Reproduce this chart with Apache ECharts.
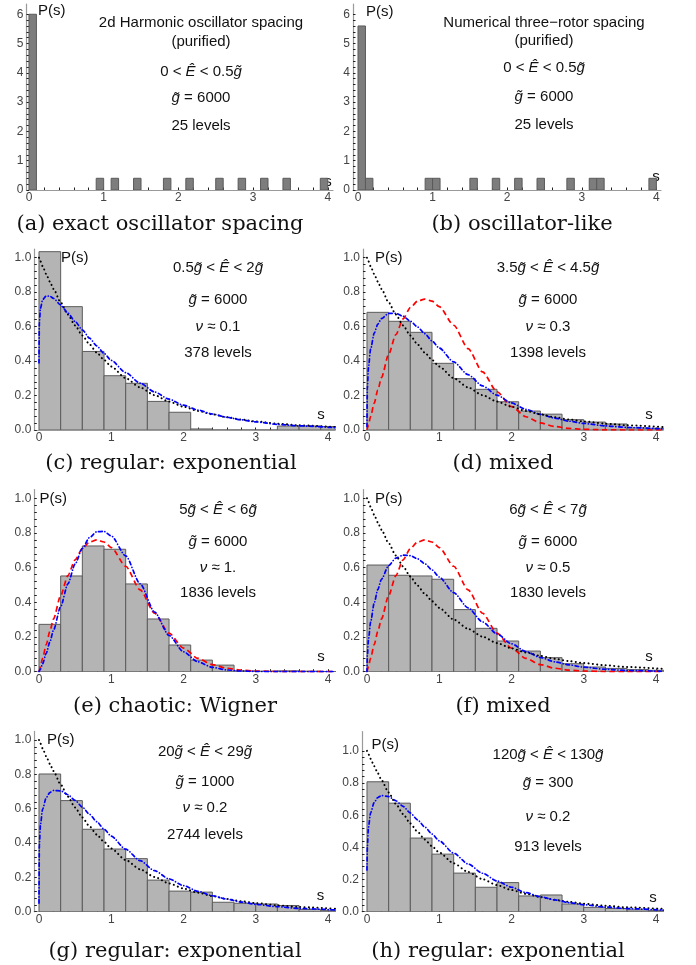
<!DOCTYPE html>
<html>
<head>
<meta charset="utf-8">
<script src="https://cdn.jsdelivr.net/npm/echarts/dist/echarts.min.js"></script>
<style>html,body{margin:0;padding:0;background:#fff}#c{width:696px;height:965px}</style>
</head>
<body>
<div id="c"></div>
<script>
// ---------- data ----------
const sGrid   = [0, 0.005, 0.02, 0.05, 0.1, 0.15, 0.2, 0.3, 0.4, 0.5, 0.6, 0.7, 0.8, 0.9, 1.0, 1.2, 1.4, 1.6, 1.8, 2.0, 2.2, 2.4, 2.6, 2.8, 3.0, 3.3, 3.6, 4.1];
const poisson = [1, 0.995, 0.980, 0.951, 0.905, 0.861, 0.819, 0.741, 0.670, 0.607, 0.549, 0.497, 0.449, 0.407, 0.368, 0.301, 0.247, 0.202, 0.165, 0.135, 0.111, 0.091, 0.074, 0.061, 0.050, 0.037, 0.027, 0.017];
const wigner  = [0, 0.008, 0.031, 0.078, 0.156, 0.232, 0.304, 0.439, 0.554, 0.645, 0.710, 0.748, 0.760, 0.748, 0.716, 0.608, 0.472, 0.337, 0.222, 0.136, 0.077, 0.041, 0.020, 0.009, 0.004, 0.001, 0, 0];
const brodyC  = [0.39, 0.620, 0.706, 0.756, 0.778, 0.777, 0.764, 0.726, 0.679, 0.630, 0.581, 0.533, 0.488, 0.445, 0.404, 0.333, 0.272, 0.221, 0.179, 0.144, 0.116, 0.093, 0.074, 0.059, 0.047, 0.033, 0.024, 0.013];
const brodyD  = [0.02, 0.239, 0.361, 0.469, 0.562, 0.615, 0.647, 0.677, 0.677, 0.660, 0.632, 0.598, 0.559, 0.517, 0.476, 0.395, 0.321, 0.256, 0.202, 0.157, 0.120, 0.091, 0.069, 0.051, 0.038, 0.024, 0.015, 0.006];
const brodyE  = [0, 0.003, 0.015, 0.046, 0.106, 0.171, 0.239, 0.376, 0.507, 0.621, 0.711, 0.774, 0.807, 0.809, 0.783, 0.668, 0.507, 0.344, 0.209, 0.115, 0.057, 0.025, 0.010, 0.004, 0.001, 0, 0, 0];
const brodyF  = [0, 0.091, 0.182, 0.285, 0.396, 0.474, 0.533, 0.612, 0.655, 0.672, 0.669, 0.651, 0.623, 0.587, 0.546, 0.456, 0.368, 0.287, 0.218, 0.161, 0.116, 0.082, 0.057, 0.039, 0.026, 0.014, 0.007, 0.002];
const brodyG  = [0.05, 0.386, 0.506, 0.597, 0.664, 0.694, 0.706, 0.704, 0.681, 0.648, 0.609, 0.567, 0.524, 0.481, 0.440, 0.364, 0.297, 0.239, 0.191, 0.152, 0.119, 0.093, 0.073, 0.056, 0.043, 0.029, 0.019, 0.010];
const brodyH  = [0.26, 0.40, 0.525, 0.615, 0.680, 0.710, 0.722, 0.716, 0.690, 0.655, 0.614, 0.571, 0.527, 0.483, 0.441, 0.364, 0.297, 0.239, 0.191, 0.152, 0.119, 0.093, 0.073, 0.056, 0.043, 0.029, 0.019, 0.010];

const binLeft  = [0, 0.3, 0.6, 0.9, 1.2, 1.5, 1.8, 2.1, 2.4, 2.7, 3.0, 3.3, 3.6, 3.9];
const binWidth = 0.3;
const histC = [1.035, 0.716, 0.456, 0.315, 0.271, 0.166, 0.103, 0.006, 0, 0, 0, 0.023, 0.023, 0.020];
const histD = [0.683, 0.631, 0.567, 0.387, 0.298, 0.236, 0.164, 0.110, 0.092, 0.060, 0.046, 0.035, 0.012, 0.010];
const histE = [0.273, 0.552, 0.725, 0.706, 0.506, 0.304, 0.154, 0.067, 0.038, 0.005, 0.003, 0.005, 0.003, 0];
const histF = [0.615, 0.556, 0.552, 0.533, 0.358, 0.250, 0.177, 0.119, 0.081, 0.046, 0.027, 0.019, 0.012, 0.008];
const histG = [0.802, 0.647, 0.480, 0.365, 0.309, 0.184, 0.120, 0.114, 0.055, 0.049, 0.045, 0.036, 0.013, 0.008];
const histH = [0.808, 0.675, 0.458, 0.358, 0.240, 0.152, 0.181, 0.098, 0.104, 0.048, 0.027, 0.020, 0.012, 0.008];

const narrowWidth = 0.1;
const aLeft   = [0, 0.9, 1.1, 1.4, 1.8, 2.1, 2.5, 2.8, 3.1, 3.4, 3.9];
const aHeight = [6, 0.4, 0.4, 0.4, 0.4, 0.4, 0.4, 0.4, 0.4, 0.4, 0.4];
const bLeft   = [0, 0.1, 0.9, 1.0, 1.5, 1.8, 2.1, 2.4, 2.8, 3.1, 3.2, 3.9];
const bHeight = [5.6, 0.4, 0.4, 0.4, 0.4, 0.4, 0.4, 0.4, 0.4, 0.4, 0.4, 0.4];

const xMajor  = [0, 1, 2, 3, 4];
const yMajor1 = [0, 0.2, 0.4, 0.6, 0.8, 1.0];
const yMajor6 = [0, 1, 2, 3, 4, 5, 6];

const textA = ['2d Harmonic oscillator spacing', '(purified)', '0 < {i|Ê} < 0.5{i|g̃}', '{i|g̃} = 6000', '25 levels'];
const textB = ['Numerical three\u2212rotor spacing', '(purified)', '0 < {i|Ê} < 0.5{i|g̃}', '{i|g̃} = 6000', '25 levels'];
const textC = ['0.5{i|g̃} < {i|Ê} < 2{i|g̃}', '{i|g̃} = 6000', '{i|ν} ≈ 0.1', '378 levels'];
const textD = ['3.5{i|g̃} < {i|Ê} < 4.5{i|g̃}', '{i|g̃} = 6000', '{i|ν} ≈ 0.3', '1398 levels'];
const textE = ['5{i|g̃} < {i|Ê} < 6{i|g̃}', '{i|g̃} = 6000', '{i|ν} ≈ 1.', '1836 levels'];
const textF = ['6{i|g̃} < {i|Ê} < 7{i|g̃}', '{i|g̃} = 6000', '{i|ν} ≈ 0.5', '1830 levels'];
const textG = ['20{i|g̃} < {i|Ê} < 29{i|g̃}', '{i|g̃} = 1000', '{i|ν} ≈ 0.2', '2744 levels'];
const textH = ['120{i|g̃} < {i|Ê} < 130{i|g̃}', '{i|g̃} = 300', '{i|ν} ≈ 0.2', '913 levels'];

const captions = ['(a) exact oscillator spacing', '(b) oscillator-like', '(c) regular: exponential', '(d) mixed',
                  '(e) chaotic: Wigner', '(f) mixed', '(g) regular: exponential', '(h) regular: exponential'];

// ---------- helpers ----------
const bars = (lefts, heights, w) => lefts.map((l, k) => [l, l + w, heights[k]]);
const curve = arr => sGrid.map((s, k) => [s, arr[k]]);
const steps = (a, b, d) => { const r = []; for (let v = a; v <= b + 1e-9; v += d) r.push(+v.toFixed(4)); return r; };

const SANS = 'Liberation Sans, Arial, sans-serif';
const SERIF = 'DejaVu Serif, serif';

const STY = {
  poisson: { color: '#000', width: 2, type: [0.1, 4.2], cap: 'round' },
  wigner:  { color: '#ff0000', width: 1.7, type: [5.5, 3.5], cap: 'butt' },
  brody:   { color: '#0000ff', width: 1.7, type: [3.5, 2.8, 0.1, 2.8], cap: 'round' }
};

const panels = [
  { g: [26.5, 4, 306.5, 186], xMin: -0.033, xMax: 4.07, yMax: 6.35, yMajor: yMajor6, yMinor: 0.2, yDec: 0,
    bars: bars(aLeft, aHeight, narrowWidth), dark: true, curves: [],
    text: textA, tx: 201, ty: [23.3, 41.7, 71.7, 98.3, 126], ps: [38, 11], sl: [328, 182], cap: [160, 225] },
  { g: [353, 4, 308, 186], xMin: -0.067, xMax: 4.062, yMax: 6.35, yMajor: yMajor6, yMinor: 0.2, yDec: 0,
    bars: bars(bLeft, bHeight, narrowWidth), dark: true, curves: [],
    text: textB, tx: 544, ty: [22.7, 40.7, 68.3, 96.7, 125], ps: [366, 12], sl: [656, 177], cap: [522, 225] },
  { g: [34.3, 249.1, 300.9, 180.9], xMin: -0.065, xMax: 4.1, yMax: 1.05, yMajor: yMajor1, yMinor: 0.04, yDec: 1,
    bars: bars(binLeft, histC, binWidth), curves: [['poisson', poisson], ['brody', brodyC]],
    text: textC, tx: 218, ty: [268.3, 300, 326.7, 353.3], ps: [61, 258], sl: [321, 415], cap: [171, 464] },
  { g: [363, 249.1, 300.2, 180.9], xMin: -0.055, xMax: 4.1, yMax: 1.05, yMajor: yMajor1, yMinor: 0.04, yDec: 1,
    bars: bars(binLeft, histD, binWidth), curves: [['wigner', wigner], ['brody', brodyD], ['poisson', poisson]],
    text: textD, tx: 548, ty: [268.3, 300, 326.7, 353.3], ps: [375, 258], sl: [649, 414.5], cap: [503, 464] },
  { g: [34.3, 489.6, 300.9, 182.1], xMin: -0.065, xMax: 4.1, yMax: 1.05, yMajor: yMajor1, yMinor: 0.04, yDec: 1,
    bars: bars(binLeft, histE, binWidth), curves: [['wigner', wigner], ['brody', brodyE]],
    text: textE, tx: 218, ty: [510, 541.7, 568.3, 593.3], ps: [39.5, 499], sl: [321, 656.7], cap: [175, 707] },
  { g: [363, 489.6, 300.2, 182.1], xMin: -0.055, xMax: 4.1, yMax: 1.05, yMajor: yMajor1, yMinor: 0.04, yDec: 1,
    bars: bars(binLeft, histF, binWidth), curves: [['wigner', wigner], ['brody', brodyF], ['poisson', poisson]],
    text: textF, tx: 548, ty: [510, 541.7, 568.3, 593.3], ps: [375, 499], sl: [649, 656.7], cap: [503, 707] },
  { g: [34.3, 731.4, 300.9, 180.3], xMin: -0.065, xMax: 4.1, yMax: 1.05, yMajor: yMajor1, yMinor: 0.04, yDec: 1,
    bars: bars(binLeft, histG, binWidth), curves: [['poisson', poisson], ['brody', brodyG]],
    text: textG, tx: 205, ty: [751.7, 781.7, 808.3, 835], ps: [47, 740], sl: [320.5, 896], cap: [175, 952] },
  { g: [362, 731.6, 301.2, 180.1], xMin: -0.069, xMax: 4.1, yMax: 1.12, yMajor: yMajor1, yMinor: 0.04, yDec: 1,
    bars: bars(binLeft, histH, binWidth), curves: [['poisson', poisson], ['brody', brodyH]],
    text: textH, tx: 548, ty: [755, 783.3, 816.7, 846.7], ps: [371.5, 744.7], sl: [653, 897.5], cap: [498, 952] }
];

// ---------- build option ----------
const grid = [], xAxis = [], yAxis = [], series = [], graphic = [];
const richI = { i: { fontStyle: 'italic', fontSize: 15, fontFamily: SANS, fill: '#111' } };

panels.forEach((p, i) => {
  grid.push({ left: p.g[0], top: p.g[1], width: p.g[2], height: p.g[3] });
  xAxis.push({
    type: 'value', gridIndex: i, min: p.xMin, max: p.xMax,
    splitLine: { show: false },
    axisLine: { show: true, onZero: false, lineStyle: { color: '#9a9a9a', width: 1.2 } },
    axisTick: { show: true, inside: true, length: 2.5, customValues: steps(0, 4, 0.2), lineStyle: { color: '#222', width: 1 } },
    axisLabel: { customValues: xMajor, margin: 2, fontSize: 12, color: '#444', fontFamily: SANS }
  });
  yAxis.push({
    type: 'value', gridIndex: i, min: 0, max: p.yMax,
    splitLine: { show: false },
    axisLine: { show: true, onZero: false, lineStyle: { color: '#9a9a9a', width: 1.2 } },
    axisTick: { show: true, inside: true, length: 2.5, customValues: steps(0, p.yMajor[p.yMajor.length - 1], p.yMinor), lineStyle: { color: '#222', width: 1 } },
    axisLabel: { customValues: p.yMajor, margin: 3, fontSize: 12, color: '#444', fontFamily: SANS,
                 formatter: v => Number(v).toFixed(p.yDec) }
  });
  const fill = p.dark ? '#7d7d7d' : '#b4b4b4';
  const stroke = p.dark ? '#5a5a5a' : '#5c5c5c';
  series.push({
    type: 'custom', xAxisIndex: i, yAxisIndex: i, clip: true, z: 2,
    data: p.bars, encode: { x: [0, 1], y: 2 },
    renderItem: (params, api) => {
      const a = api.coord([api.value(0), api.value(2)]);
      const b = api.coord([api.value(1), 0]);
      return { type: 'rect', shape: { x: a[0], y: a[1], width: b[0] - a[0], height: b[1] - a[1] },
               style: { fill: fill, stroke: stroke, lineWidth: 1 } };
    }
  });
  p.curves.forEach(([kind, arr]) => {
    series.push({
      type: 'line', xAxisIndex: i, yAxisIndex: i, data: curve(arr), showSymbol: false, symbol: 'none',
      smooth: 0.25, smoothMonotone: 'x', clip: true, z: 3, silent: true,
      lineStyle: STY[kind]
    });
  });
  p.text.forEach((t, k) => {
    graphic.push({ type: 'text', x: p.tx, y: p.ty[k], silent: true,
      style: { text: t, fontSize: 15, fontFamily: SANS, fill: '#111', align: 'center', verticalAlign: 'middle', rich: richI } });
  });
  graphic.push({ type: 'text', x: p.ps[0], y: p.ps[1], silent: true,
    style: { text: 'P(s)', fontSize: 15, fontFamily: SANS, fill: '#111', align: 'left', verticalAlign: 'middle' } });
  graphic.push({ type: 'text', x: p.sl[0], y: p.sl[1], silent: true,
    style: { text: 's', fontSize: 15, fontFamily: SANS, fill: '#111', align: 'center', verticalAlign: 'middle' } });
  graphic.push({ type: 'text', x: p.cap[0], y: p.cap[1], silent: true,
    style: { text: captions[i], fontSize: 21, fontFamily: SERIF, fill: '#111', align: 'center', verticalAlign: 'middle' } });
});

const chart = echarts.init(document.getElementById('c'), null, { renderer: 'canvas' });
chart.setOption({ animation: false, backgroundColor: '#fff', grid, xAxis, yAxis, series, graphic });
</script>
</body>
</html>
